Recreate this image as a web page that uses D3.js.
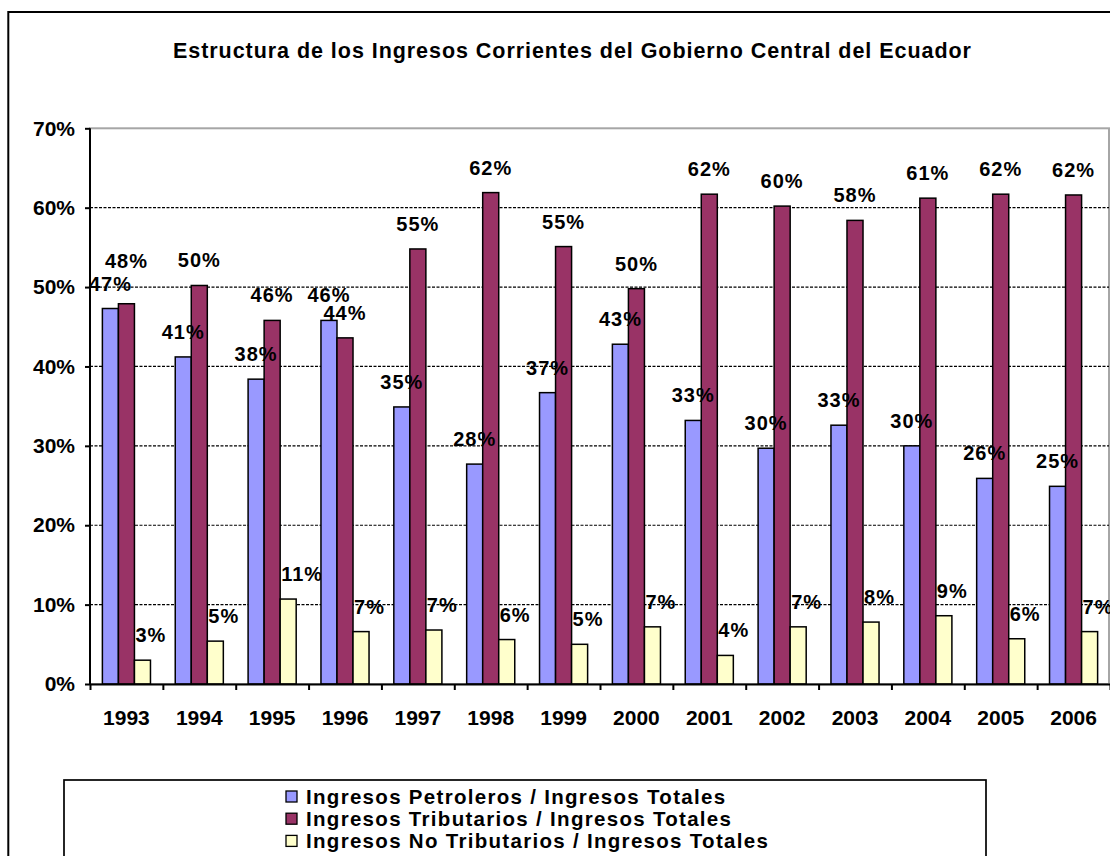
<!DOCTYPE html>
<html>
<head>
<meta charset="utf-8">
<script src="https://cdn.jsdelivr.net/npm/d3@7"></script>
<style>
  html, body { margin: 0; padding: 0; background: #fff; }
  svg { display: block; font-family: "Liberation Sans", Arial, sans-serif; font-weight: bold; }
</style>
</head>
<body>
<div class="chart-container"></div>
<script>
const years = ['1993', '1994', '1995', '1996', '1997', '1998', '1999', '2000', '2001', '2002', '2003', '2004', '2005', '2006'];
const seriesNames = [
  'Ingresos Petroleros / Ingresos Totales',
  'Ingresos Tributarios / Ingresos Totales',
  'Ingresos No Tributarios / Ingresos Totales'
];
// shares in percent
const petroleros = [47.3, 41.2, 38.4, 45.8, 34.9, 27.7, 36.7, 42.8, 33.2, 29.7, 32.6, 30.0, 25.9, 24.9];
const tributarios = [47.9, 50.2, 45.8, 43.6, 54.8, 61.9, 55.1, 49.8, 61.7, 60.2, 58.4, 61.2, 61.7, 61.6];
const noTributarios = [3.0, 5.4, 10.7, 6.6, 6.8, 5.6, 5.0, 7.2, 3.6, 7.2, 7.8, 8.6, 5.7, 6.6];
const yTicks = [0, 10, 20, 30, 40, 50, 60, 70];
const title = 'Estructura de los Ingresos Corrientes del Gobierno Central del Ecuador';

const colors = ['#9999ff', '#993366', '#ffffcc'];
const seriesValues = [petroleros, tributarios, noTributarios];

const width = 1110;
const height = 856;
const plotLeft = 90, plotRight = 1110, plotTop = 128.3, plotBottom = 684;

const svg = d3.select('.chart-container')
  .append('svg')
  .attr('width', width)
  .attr('height', height);

// Outer chart border (continues past the window)
svg.append('rect')
  .attr('x', 8.3).attr('y', 12)
  .attr('width', 1200).attr('height', 1000)
  .attr('fill', 'none')
  .attr('stroke', '#000')
  .attr('stroke-width', 2);

// Title
svg.append('text')
  .attr('x', 173)
  .attr('y', 57.5)
  .attr('font-size', '21.5px')
  .attr('letter-spacing', '0.95px')
  .text(title);

// Scales
const x0 = d3.scaleBand()
  .domain(years)
  .range([plotLeft, plotRight])
  .paddingInner(0.34)
  .paddingOuter(0.17);

const x1 = d3.scaleBand()
  .domain(d3.range(seriesNames.length))
  .range([0, x0.bandwidth()]);

const y = d3.scaleLinear()
  .domain([0, 70])
  .range([plotBottom, plotTop]);

// Plot area border (grey top and right)
svg.append('rect')
  .attr('x', plotLeft).attr('y', plotTop)
  .attr('width', plotRight - plotLeft - 1).attr('height', plotBottom - plotTop)
  .attr('fill', 'none')
  .attr('stroke', '#a6a6a6')
  .attr('stroke-width', 2);

// Gridlines
svg.append('g')
  .selectAll('line')
  .data(yTicks.filter(d => d > 0 && d < 70))
  .enter()
  .append('line')
  .attr('x1', plotLeft).attr('x2', plotRight - 1)
  .attr('y1', d => y(d)).attr('y2', d => y(d))
  .attr('stroke', '#000')
  .attr('stroke-width', 1.2)
  .attr('stroke-dasharray', '3,1.5');

// Bars
const groups = svg.append('g')
  .selectAll('g')
  .data(years)
  .enter()
  .append('g')
  .attr('transform', d => `translate(${x0(d)},0)`);

groups.selectAll('rect')
  .data((d, i) => seriesValues.map((s, k) => ({ k, v: s[i] })))
  .enter()
  .append('rect')
  .attr('x', d => x1(d.k))
  .attr('y', d => y(d.v))
  .attr('width', x1.bandwidth())
  .attr('height', d => plotBottom - y(d.v))
  .attr('fill', d => colors[d.k])
  .attr('stroke', '#000')
  .attr('stroke-width', 1.5);

// Data labels
const fmt = d3.format('.0f');
groups.each(function (yr, i) {
  const g = d3.select(this);
  let prev = null;
  seriesValues.forEach((s, k) => {
    let ly = y(s[i]) - 18;
    // push label up if it collides with the previous series label
    if (prev !== null && k === 1 && Math.abs(ly - prev) < 16) ly = prev - 23;
    prev = ly;
    const isNT = k === 2;
    g.append('text')
      .attr('x', isNT ? x1(k) + 1 : x1(k) + x1.bandwidth() / 2)
      .attr('y', ly)
      .attr('text-anchor', isNT ? 'start' : 'middle')
      .attr('font-size', '20px')
      .attr('letter-spacing', '1px')
      .text(fmt(s[i]) + '%');
  });
});

// Y axis
const yAxis = svg.append('g')
  .attr('transform', `translate(${plotLeft},0)`)
  .call(d3.axisLeft(y).tickValues(yTicks).tickFormat(d => d + '%').tickSize(5).tickPadding(10));
yAxis.select('.domain').attr('stroke', '#000').attr('stroke-width', 2).attr('d', `M0,${plotTop}V${plotBottom}`);
yAxis.selectAll('.tick line').attr('stroke-width', 2);
yAxis.selectAll('text').attr('font-size', '21px').attr('fill', '#000').style('font-weight', 'bold');

// X axis: ticks between categories
const xi = d3.scaleLinear().domain([0, years.length]).range([plotLeft, plotRight]);
const xTicks = svg.append('g')
  .attr('transform', `translate(0,${plotBottom})`)
  .call(d3.axisBottom(xi).tickValues(d3.range(years.length + 1)).tickFormat('').tickSize(6).tickSizeOuter(0));
xTicks.select('.domain').attr('stroke-width', 2);
xTicks.selectAll('.tick line').attr('stroke-width', 2);

// X axis labels
const xLabels = svg.append('g')
  .attr('transform', `translate(0,${plotBottom})`)
  .call(d3.axisBottom(x0).tickSize(0).tickPadding(26));
xLabels.select('.domain').remove();
xLabels.selectAll('text').attr('font-size', '21px').attr('fill', '#000').style('font-weight', 'bold');

// Legend
svg.append('rect')
  .attr('x', 64).attr('y', 780)
  .attr('width', 922).attr('height', 200)
  .attr('fill', '#fff')
  .attr('stroke', '#000')
  .attr('stroke-width', 1.7);

const legend = svg.append('g')
  .selectAll('g')
  .data(seriesNames)
  .enter()
  .append('g')
  .attr('transform', (d, i) => `translate(286,${791 + i * 22.2})`);

legend.append('rect')
  .attr('width', 11).attr('height', 11)
  .attr('fill', (d, i) => colors[i])
  .attr('stroke', '#000')
  .attr('stroke-width', 1.3);

legend.append('text')
  .attr('x', 20)
  .attr('y', 13)
  .attr('font-size', '20.5px')
  .attr('letter-spacing', '1.3px')
  .text(d => d);
</script>
</body>
</html>
